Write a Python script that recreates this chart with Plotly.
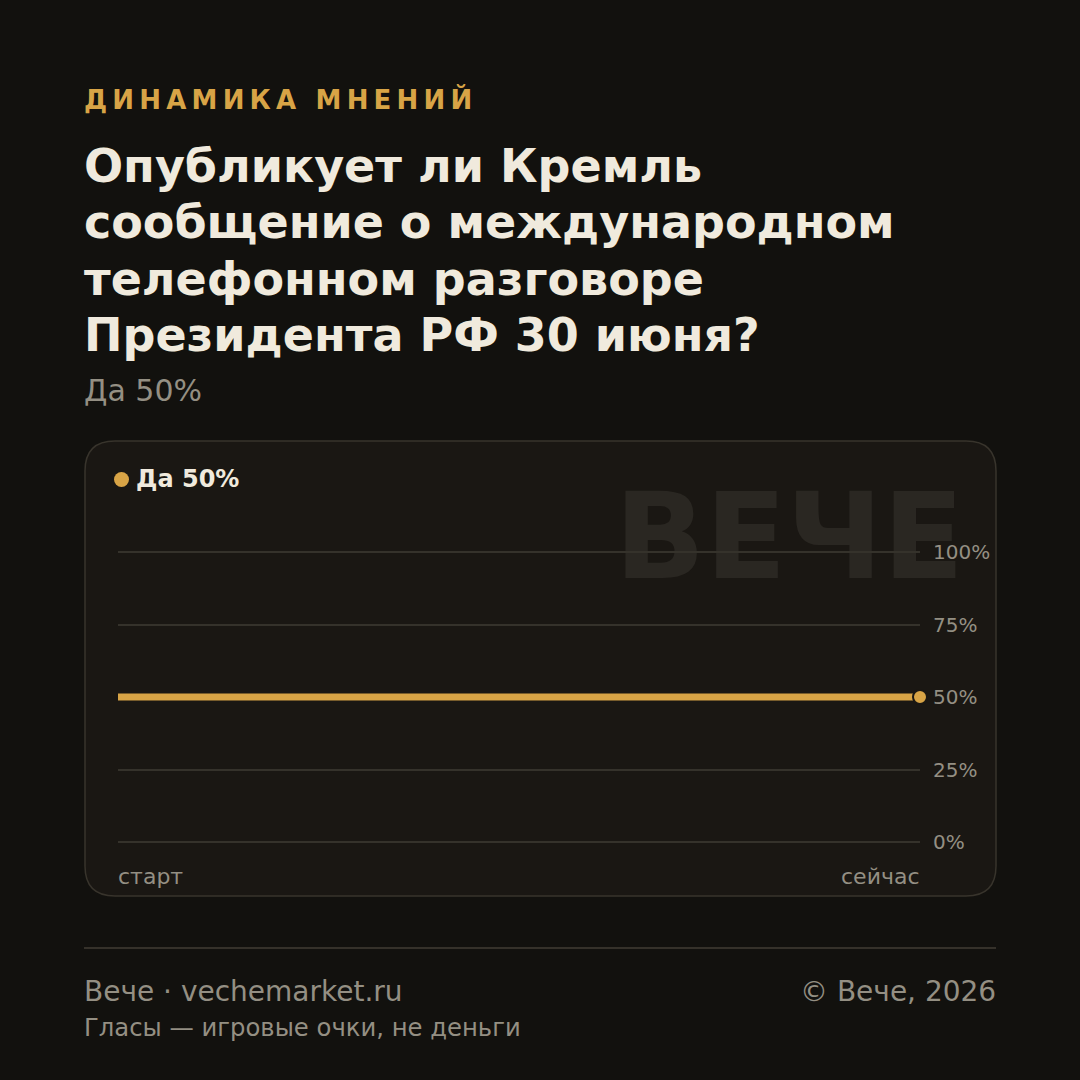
import plotly.graph_objects as go

# ---- data ----
x_labels = ["старт", "сейчас"]
yes_values = [50, 50]
y_ticks = [0, 25, 50, 75, 100]
y_tick_text = ["0%", "25%", "50%", "75%", "100%"]
series_name = "Да 50%"

kicker = "ДИНАМИКА МНЕНИЙ"
title_lines = ["Опубликует ли Кремль", "сообщение о международном",
               "телефонном разговоре", "Президента РФ 30 июня?"]
subtitle = "Да 50%"
watermark = "ВЕЧЕ"
footer_left = "Вече · vechemarket.ru"
footer_right = "© Вече, 2026"
footer_note = "Гласы — игровые очки, не деньги"

# ---- style ----
W = H = 1080
BG = "#12110e"
CARD = "#1a1713"
CARD_LINE = "#38342c"
GOLD = "#d8a446"
CREAM = "#f0eadd"
GREY = "#948f83"
GRID = "#35322b"
FONT = "DejaVu Sans"

def px(x):
    return x / W

def py(y):
    return 1 - y / H

fig = go.Figure()

# watermark on a background subplot (so grid of main plot draws over it)
fig.add_trace(go.Scatter(
    x=[964], y=[548], mode="text", text=[f"<b>{watermark}</b>"],
    textposition="middle left",
    textfont=dict(family=FONT, size=119, color="#2a2722"),
    xaxis="x", yaxis="y", hoverinfo="skip", showlegend=False))

# main line
xs = [0, 1]
fig.add_trace(go.Scatter(
    x=xs, y=yes_values, mode="lines", line=dict(color=GOLD, width=7),
    xaxis="x2", yaxis="y2", hoverinfo="skip", showlegend=False))
fig.add_trace(go.Scatter(
    x=[xs[-1]], y=[yes_values[-1]], mode="markers",
    marker=dict(color=GOLD, size=14, line=dict(color=CARD, width=2)),
    xaxis="x2", yaxis="y2", hoverinfo="skip", showlegend=False, cliponaxis=False))

x0, x1 = 118, 920
y100, y0 = 552, 842
pad = 1.0  # percent of padding so end gridlines are drawn
unit = (y0 - y100) / 100.0

fig.update_layout(
    width=W, height=H,
    margin=dict(l=0, r=0, t=0, b=0, pad=0, autoexpand=False),
    paper_bgcolor=BG, plot_bgcolor="rgba(0,0,0,0)",
    showlegend=False,
    xaxis=dict(domain=[0, 1], range=[0, W], visible=False, fixedrange=True,
               automargin=False),
    yaxis=dict(domain=[0, 1], range=[H, 0], visible=False, fixedrange=True,
               automargin=False),
    xaxis2=dict(domain=[px(x0), px(x1)], range=[0, 1], anchor="y2",
                showgrid=False, zeroline=False, showticklabels=False,
                fixedrange=True, automargin=False),
    yaxis2=dict(domain=[py(y0 + pad * unit), py(y100 - pad * unit)],
                range=[-pad, 100 + pad], anchor="x2",
                side="right", tickvals=y_ticks, ticktext=y_tick_text,
                showgrid=True, gridcolor=GRID, gridwidth=2, zeroline=False,
                ticks="outside", ticklen=8, tickcolor="rgba(0,0,0,0)",
                tickfont=dict(family=FONT, size=20, color=GREY),
                fixedrange=True, automargin=False),
)

# card (rounded rect)
cx0, cy0, cx1, cy1, r = 85, 441, 996, 896, 30
def P(x, y):
    return f"{px(x)},{py(y)}"
path = (f"M {P(cx0 + r, cy0)} L {P(cx1 - r, cy0)} "
        f"Q {P(cx1, cy0)} {P(cx1, cy0 + r)} L {P(cx1, cy1 - r)} "
        f"Q {P(cx1, cy1)} {P(cx1 - r, cy1)} L {P(cx0 + r, cy1)} "
        f"Q {P(cx0, cy1)} {P(cx0, cy1 - r)} L {P(cx0, cy0 + r)} "
        f"Q {P(cx0, cy0)} {P(cx0 + r, cy0)} Z")
shapes = [
    dict(type="path", xref="paper", yref="paper", path=path,
         fillcolor=CARD, line=dict(color=CARD_LINE, width=1.5), layer="below"),
    dict(type="line", xref="paper", yref="paper", x0=px(84), x1=px(996),
         y0=py(948), y1=py(948), line=dict(color="#35312a", width=2)),
    dict(type="circle", xref="paper", yref="paper",
         x0=px(114), x1=px(129), y0=py(472), y1=py(487),
         fillcolor=GOLD, line=dict(width=0)),
]
fig.update_layout(shapes=shapes)

ann = []
def text(x, y, s, size, color, xanchor="left", bold=False):
    ann.append(dict(xref="paper", yref="paper", x=px(x), y=py(y),
                    text=f"<b>{s}</b>" if bold else s, showarrow=False,
                    xanchor=xanchor, yanchor="middle",
                    font=dict(family=FONT, size=size, color=color)))

spaced_kicker = "\u2009".join(list(kicker))
text(82, 100, spaced_kicker, 26, GOLD, bold=True)
for i, line in enumerate(title_lines):
    text(82, 166 + i * 56.3, line, 46, CREAM, bold=True)
text(82, 390, subtitle, 30, GREY)
text(134, 479, series_name, 24, CREAM, bold=True)
text(116, 876, x_labels[0], 22, GREY)
text(922, 876, x_labels[1], 22, GREY, xanchor="right")
text(82, 991, footer_left, 28, GREY)
text(998, 991, footer_right, 28, GREY, xanchor="right")
text(82, 1027, footer_note, 24.3, GREY)
fig.update_layout(annotations=ann)

fig.write_html("out.html")
